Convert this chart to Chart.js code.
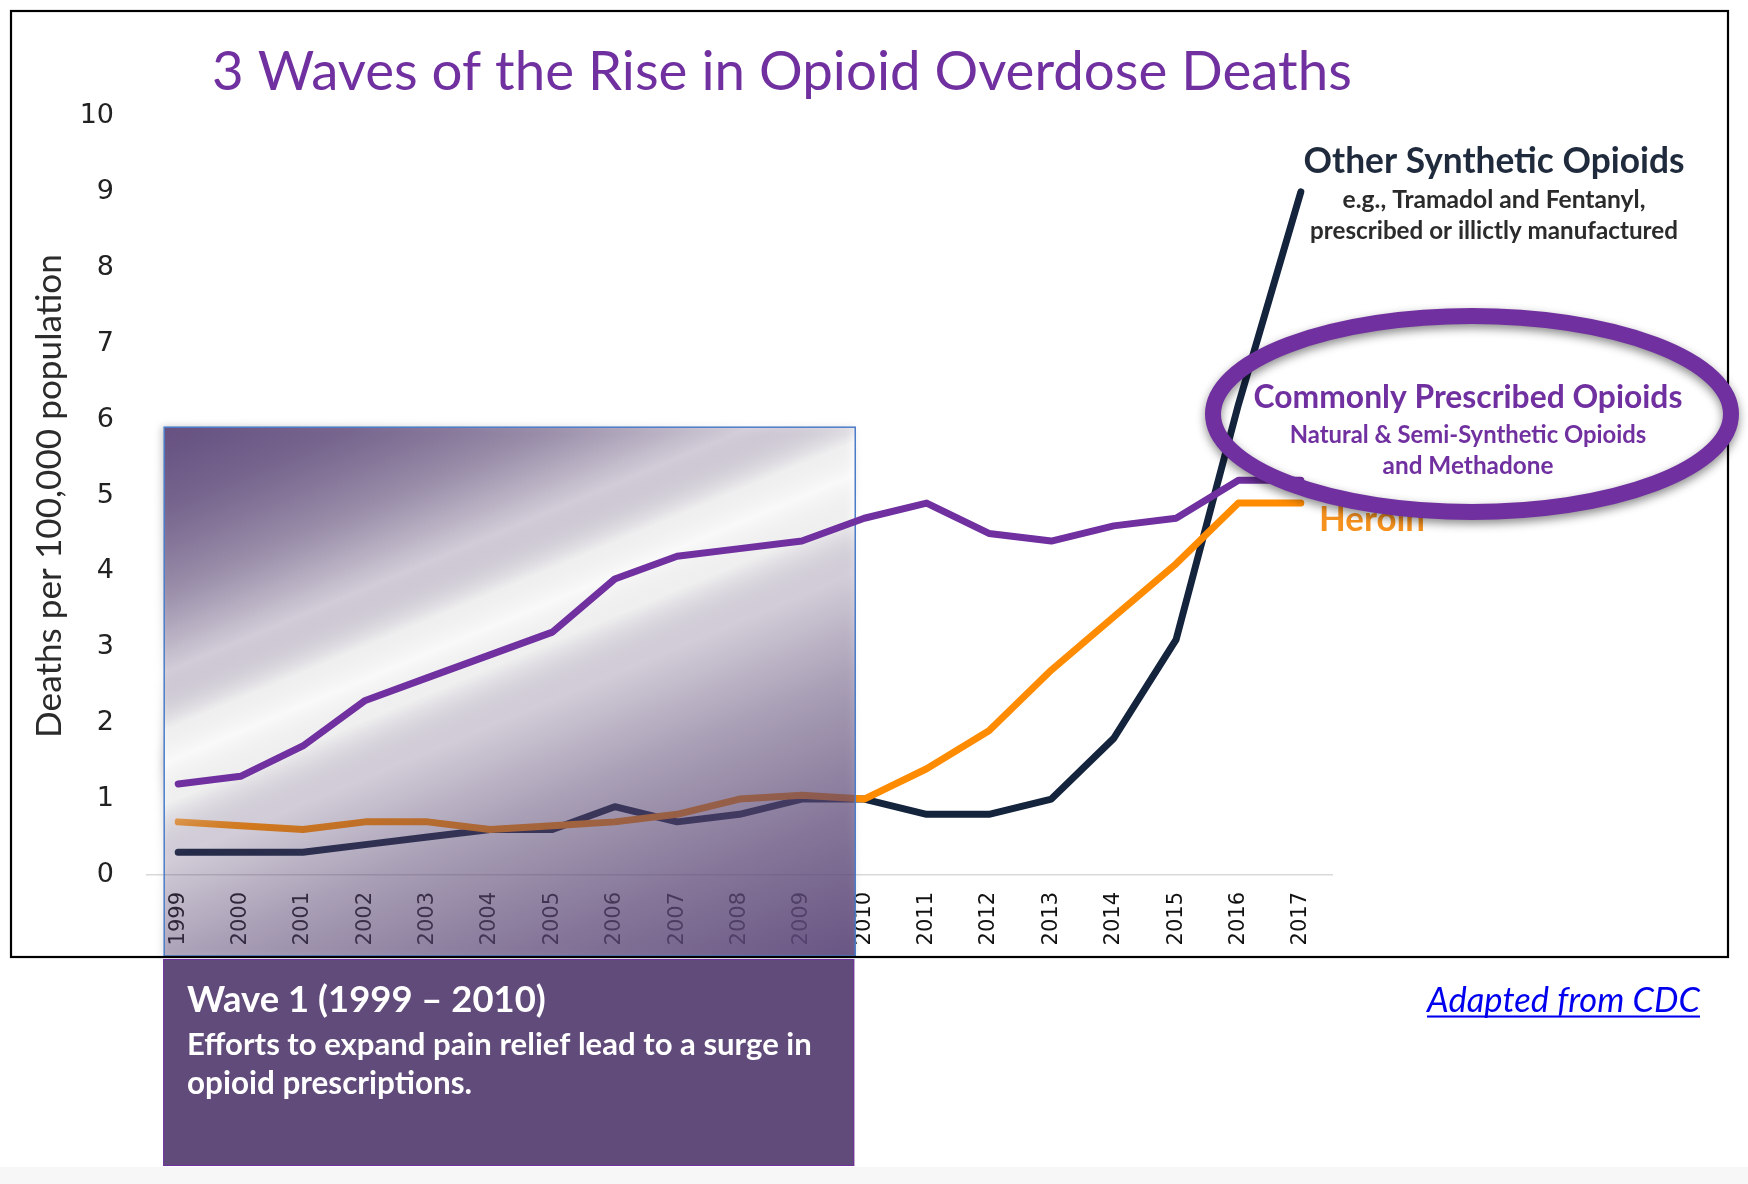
<!DOCTYPE html>
<html><head><meta charset="utf-8">
<script src="https://cdn.jsdelivr.net/npm/chart.js@4.4.1/dist/chart.umd.min.js"></script>
<style>html,body{margin:0;padding:0;background:#fff;overflow:hidden}canvas{display:block}</style>
</head><body>
<canvas id="c" width="1748" height="1184"></canvas>
<script>
const years = ['1999','2000','2001','2002','2003','2004','2005','2006','2007','2008','2009','2010','2011','2012','2013','2014','2015','2016','2017'];
const commonlyPrescribed = [1.2,1.3,1.7,2.3,2.6,2.9,3.2,3.9,4.2,4.3,4.4,4.7,4.9,4.5,4.4,4.6,4.7,5.2,5.2];
const heroin = [0.7,0.65,0.6,0.7,0.7,0.6,0.65,0.7,0.8,1.0,1.05,1.0,1.4,1.9,2.7,3.4,4.1,4.9,4.9];
const otherSynthetic = [0.3,0.3,0.3,0.4,0.5,0.6,0.6,0.9,0.7,0.8,1.0,1.0,0.8,0.8,1.0,1.8,3.1,6.2,9.0];
const yMin = 0, yMax = 10, yStep = 1;

const PURPLE = '#7030A0', ORANGE = '#FF8C00', NAVY = '#14243D';

function fitText(ctx, text, o) {
  const style = o.style || 'normal', weight = o.weight || 'normal', fam = o.family || 'Lato';
  ctx.font = `${style} ${weight} 100px ${fam}`;
  const w100 = ctx.measureText(text).width;
  const size = 100 * o.w / w100;
  ctx.font = `${style} ${weight} ${size}px ${fam}`;
  ctx.fillStyle = o.color;
  ctx.textBaseline = 'middle';
  ctx.textAlign = o.align || 'left';
  ctx.fillText(text, o.x, o.y);
  if (o.underline) {
    let x0 = o.x;
    if (o.align === 'right') x0 = o.x - o.w; else if (o.align === 'center') x0 = o.x - o.w / 2;
    ctx.fillRect(x0, o.y + size * 0.42, o.w, Math.max(1.5, size * 0.06));
  }
}

const bgPlugin = {
  id: 'bg',
  beforeDraw(chart) {
    const ctx = chart.ctx;
    ctx.save();
    ctx.fillStyle = '#fff';
    ctx.fillRect(0, 0, chart.width, chart.height);
    ctx.fillStyle = '#f7f7f7';
    ctx.fillRect(0, 1167, chart.width, chart.height - 1167);
    ctx.restore();
  }
};

const overlayPlugin = {
  id: 'overlay',
  beforeDatasetDraw(chart, args) {
    if (args.index !== 0) return;
    const ctx = chart.ctx, xs = chart.scales.x, ys = chart.scales.y;
    const bx0 = xs.getPixelForValue(0) - 14, bx1 = xs.getPixelForValue(11) - 9;
    const by0 = ys.getPixelForValue(5.9), by1 = 956;
    const L = 756, dx = 0.386, dy = 0.923;
    const g = ctx.createLinearGradient(bx0, by0, bx0 + dx * L, by0 + dy * L);
    const c = (a) => `rgba(97,75,126,${a})`;
    const w = (a) => `rgba(255,255,255,${a})`;
    g.addColorStop(0, c(0.96));
    g.addColorStop(0.1, c(0.8));
    g.addColorStop(0.2, c(0.55));
    g.addColorStop(0.3, c(0.22));
    g.addColorStop(0.37, w(0.55));
    g.addColorStop(0.41, w(0.9));
    g.addColorStop(0.46, w(0.45));
    g.addColorStop(0.53, c(0.22));
    g.addColorStop(0.66, c(0.45));
    g.addColorStop(0.82, c(0.68));
    g.addColorStop(1, c(0.92));
    ctx.save();
    ctx.shadowColor = 'rgba(0,0,0,0.25)';
    ctx.shadowBlur = 8;
    ctx.shadowOffsetX = -2;
    ctx.fillStyle = g;
    ctx.fillRect(bx0, by0, bx1 - bx0, by1 - by0);
    ctx.shadowColor = 'transparent';
    ctx.strokeStyle = '#4A7CC8';
    ctx.lineWidth = 1.5;
    ctx.strokeRect(bx0, by0, bx1 - bx0, by1 - by0);
    ctx.restore();
  }
};

const annoPlugin = {
  id: 'anno',
  afterDraw(chart) {
    const ctx = chart.ctx, xs = chart.scales.x;
    ctx.save();
    ctx.strokeStyle = '#000';
    ctx.lineWidth = 2.2;
    ctx.strokeRect(11, 11, 1717, 946);
    fitText(ctx, '3 Waves of the Rise in Opioid Overdose Deaths', {x: 212, y: 72, w: 1140, color: PURPLE});
    ctx.save();
    ctx.translate(50, 496);
    ctx.rotate(-Math.PI / 2);
    fitText(ctx, 'Deaths per 100,000 population', {x: 0, y: 0, w: 484, align: 'center', color: '#2b2b2b'});
    ctx.restore();
    fitText(ctx, 'Other Synthetic Opioids', {x: 1494, y: 162, w: 381, align: 'center', weight: 'bold', color: '#1F2B3C'});
    fitText(ctx, 'e.g., Tramadol and Fentanyl,', {x: 1494, y: 200, w: 303, align: 'center', weight: 'bold', color: '#2B2B2B'});
    fitText(ctx, 'prescribed or illictly manufactured', {x: 1494, y: 231, w: 368, align: 'center', weight: 'bold', color: '#2B2B2B'});
    fitText(ctx, 'Heroin', {x: 1319, y: 520, w: 106, weight: 'bold', color: '#F5911E'});
    ctx.save();
    ctx.shadowColor = 'rgba(0,0,0,0.45)';
    ctx.shadowBlur = 10;
    ctx.shadowOffsetY = 4;
    ctx.strokeStyle = PURPLE;
    ctx.lineWidth = 16;
    ctx.beginPath();
    ctx.ellipse(1472, 414, 259, 98, 0, 0, Math.PI * 2);
    ctx.stroke();
    ctx.restore();
    fitText(ctx, 'Commonly Prescribed Opioids', {x: 1468, y: 398, w: 429, align: 'center', weight: 'bold', color: PURPLE});
    fitText(ctx, 'Natural & Semi-Synthetic Opioids', {x: 1468, y: 435, w: 357, align: 'center', weight: 'bold', color: PURPLE});
    fitText(ctx, 'and Methadone', {x: 1468, y: 466, w: 171, align: 'center', weight: 'bold', color: PURPLE});
    const bx0 = xs.getPixelForValue(0) - 15, bx1 = xs.getPixelForValue(11) - 10;
    ctx.fillStyle = '#614B7B';
    ctx.fillRect(bx0, 959, bx1 - bx0, 207);
    ctx.strokeStyle = '#7030A0';
    ctx.lineWidth = 1;
    ctx.strokeRect(bx0 + 0.5, 959.5, bx1 - bx0 - 1, 206);
    fitText(ctx, 'Wave 1 (1999 \u2013 2010)', {x: 187, y: 1000, w: 359, weight: 'bold', color: '#fff'});
    fitText(ctx, 'Efforts to expand pain relief lead to a surge in', {x: 187, y: 1045, w: 625, weight: 'bold', color: '#fff'});
    fitText(ctx, 'opioid prescriptions.', {x: 187, y: 1084, w: 285, weight: 'bold', color: '#fff'});
    fitText(ctx, 'Adapted from CDC', {x: 1700, y: 1001, w: 273, align: 'right', style: 'italic', color: '#0000EE', underline: true});
    ctx.restore();
  }
};

const ds = (label, data, color) => ({
  label, data, borderColor: color, backgroundColor: color, borderWidth: 7,
  pointRadius: 0, pointHoverRadius: 0, tension: 0, fill: false,
  borderJoinStyle: 'round', borderCapStyle: 'round'
});

new Chart(document.getElementById('c'), {
  type: 'line',
  data: {
    labels: years,
    datasets: [
      ds('Commonly Prescribed Opioids', commonlyPrescribed, PURPLE),
      ds('Heroin', heroin, ORANGE),
      ds('Other Synthetic Opioids', otherSynthetic, NAVY)
    ]
  },
  options: {
    responsive: false,
    devicePixelRatio: 1,
    animation: false,
    events: [],
    layout: {padding: {top: 116, left: 0, right: 416, bottom: 229}},
    plugins: {legend: {display: false}, tooltip: {enabled: false}, title: {display: false}},
    scales: {
      x: {
        offset: true,
        grid: {display: false, drawTicks: false},
        border: {display: true, color: '#D9D9D9', width: 1.5},
        ticks: {
          autoSkip: false, minRotation: 90, maxRotation: 90, padding: 17,
          color: '#111', font: {family: 'DejaVu Sans', size: 21}
        },
        afterFit(s) { s.height = 80; }
      },
      y: {
        min: yMin, max: yMax,
        grid: {display: false, drawTicks: false},
        border: {display: false},
        ticks: {stepSize: yStep, padding: 33, color: '#222', font: {family: 'DejaVu Sans', size: 27}},
        afterFit(s) { s.width = 147; }
      }
    }
  },
  plugins: [bgPlugin, overlayPlugin, annoPlugin]
});
</script>
</body></html>
